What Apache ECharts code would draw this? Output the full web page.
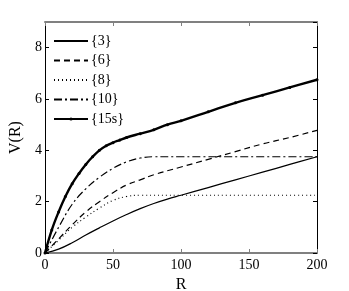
<!DOCTYPE html>
<html>
<head>
<meta charset="utf-8">
<script src="https://cdn.jsdelivr.net/npm/echarts@6/dist/echarts.min.js"></script>
<style>html,body{margin:0;padding:0;background:#fff}#c{width:349px;height:291px}</style>
</head>
<body>
<div id="c"></div>
<script>
const xTicks = [0, 50, 100, 150, 200];
const yTicks = [0, 2, 4, 6, 8];
const seriesNames = ['{3}', '{6}', '{8}', '{10}', '{15s}'];
const s3 = [[0,0],[10,0.15],[20,0.4],[30,0.7],[40,0.98],[50,1.25],[60,1.5],[70,1.73],[80,1.93],[90,2.1],[100,2.25],[120,2.55],[140,2.85],[160,3.15],[180,3.45],[200,3.75]];
const s6 = [[0,0],[10,0.55],[20,1.1],[30,1.6],[40,2.0],[50,2.35],[60,2.65],[70,2.85],[80,3.05],[100,3.35],[120,3.65],[140,3.95],[160,4.25],[180,4.5],[200,4.78]];
const s8 = [[0,0],[10,0.5],[20,1.0],[30,1.4],[40,1.75],[50,2.05],[60,2.2],[70,2.25],[100,2.25],[150,2.25],[200,2.25]];
const s10 = [[0,0],[10,1.0],[20,1.9],[30,2.5],[40,2.95],[50,3.3],[60,3.55],[70,3.7],[80,3.75],[100,3.75],[150,3.75],[200,3.75]];
const s15 = [[0,0],[5,0.9],[10,1.6],[15,2.2],[20,2.7],[25,3.1],[30,3.45],[35,3.75],[40,4.0],[45,4.18],[50,4.3],[55,4.4],[60,4.5],[70,4.65],[80,4.8],[90,5.0],[100,5.15],[120,5.5],[140,5.85],[160,6.15],[180,6.45],[200,6.75]];

const font = '"Liberation Serif", "DejaVu Serif", serif';
const chart = echarts.init(document.getElementById('c'));
const baseX = {type:'value', min:0, max:200, interval:50, splitLine:{show:false}};
const baseY = {type:'value', min:0, max:9, interval:2, splitLine:{show:false}};
function mk(name, data, type, width, sym){
  return {name, type:'line', data, smooth:0.4, xAxisIndex:0, yAxisIndex:0,
    symbol: sym ? 'circle' : 'none', symbolSize: sym ? 3 : 0, showSymbol: !!sym,
    lineStyle:{color:'#000', width, type}, itemStyle:{color:'#000'}, animation:false};
}
chart.setOption({
  animation:false,
  grid:{left:45, right:32, top:22, bottom:38, containLabel:false, outerBoundsMode:'none'},
  legend:{
    left:48, top:29, orient:'vertical', itemWidth:34, itemHeight:4, itemGap:5.5,
    itemStyle:{opacity:0},
    textStyle:{fontFamily:font, fontSize:14, color:'#000', padding:[0,0,0,-2]},
    data:seriesNames.map((n,i)=> i===4 ? {name:n, itemStyle:{opacity:1}} : {name:n})
  },
  xAxis:[
    Object.assign({}, baseX, {position:'bottom', name:'R', nameLocation:'middle', nameGap:23,
      nameTextStyle:{fontFamily:font, fontSize:16, color:'#000'},
      axisLine:{onZero:false, lineStyle:{color:'#808080', width:2}},
      axisTick:{inside:true, length:4, lineStyle:{color:'#808080'}},
      axisLabel:{fontFamily:font, fontSize:14, color:'#000', margin:5, formatter:v=>xTicks.includes(v)?String(v):''}}),
    Object.assign({}, baseX, {position:'top',
      axisLine:{onZero:false, lineStyle:{color:'#808080', width:2}},
      axisTick:{inside:true, length:4, lineStyle:{color:'#808080'}},
      axisLabel:{show:false}})
  ],
  yAxis:[
    Object.assign({}, baseY, {position:'left', name:'V(R)', nameLocation:'middle', nameGap:21,
      nameTextStyle:{fontFamily:font, fontSize:16, color:'#000'},
      axisLine:{onZero:false, lineStyle:{color:'#000', width:1}},
      axisTick:{inside:true, length:4, lineStyle:{color:'#000'}},
      axisLabel:{fontFamily:font, fontSize:14, color:'#000', margin:3, showMaxLabel:false, formatter:v=>yTicks.includes(v)?String(v):''}}),
    Object.assign({}, baseY, {position:'right',
      axisLine:{onZero:false, lineStyle:{color:'#000', width:1}},
      axisTick:{inside:true, length:4, lineStyle:{color:'#000'}},
      axisLabel:{show:false}})
  ],
  series:[
    mk(seriesNames[0], s3, 'solid', 1.2, false),
    mk(seriesNames[1], s6, [6,4], 1.2, false),
    mk(seriesNames[2], s8, [1,3], 1.2, false),
    mk(seriesNames[3], s10, [8,3,2,3], 1.2, false),
    mk(seriesNames[4], s15, 'solid', 2.4, true)
  ]
});
</script>
</body>
</html>
